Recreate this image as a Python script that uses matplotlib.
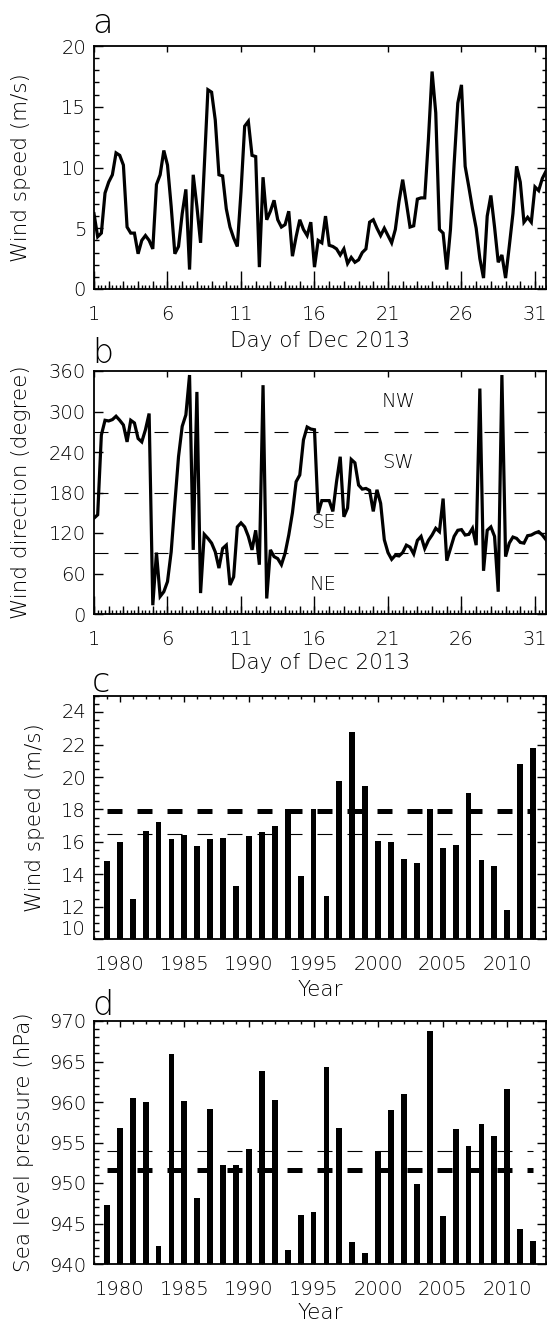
import numpy as np
import matplotlib
matplotlib.use('Agg')
import matplotlib.pyplot as plt
from matplotlib.ticker import MultipleLocator, FixedLocator, NullFormatter

# ---------------- data ----------------
# 6-hourly values, Dec 1 00h .. Dec 31 18h 2013
first_day = 1.0
step_days = 0.25
wind_speed_6h = [
    6.2, 4.3, 4.6, 7.9,  8.8, 9.4, 11.2, 11.0,  10.2, 5.1, 4.6, 4.6,
    2.9, 4.0, 4.4, 4.0,  3.3, 8.6, 9.4, 11.4,  10.2, 6.8, 2.9, 3.5,
    6.2, 8.2, 1.6, 9.4,  6.8, 3.8, 10.0, 16.4,  16.2, 13.9, 9.4, 9.3,
    6.6, 5.1, 4.2, 3.5,  8.0, 13.4, 13.8, 11.0,  10.9, 1.8, 9.2, 5.7,
    6.4, 7.3, 5.7, 5.1,  5.3, 6.4, 2.7, 4.3,  5.7, 4.9, 4.4, 5.5,
    1.8, 4.0, 3.8, 6.0,  3.6, 3.5, 3.3, 2.8,  3.3, 2.1, 2.6, 2.2,
    2.4, 3.0, 3.3, 5.5,  5.7, 5.0, 4.4, 5.0,  4.4, 3.8, 4.9, 7.2,
    9.0, 7.1, 5.1, 5.2,  7.4, 7.5, 7.5, 12.3,  17.9, 14.5, 4.9, 4.6,
    1.6, 4.9, 10.3, 15.3,  16.8, 10.1, 8.4, 6.6,  5.0, 2.5, 0.9, 6.0,
    7.7, 5.1, 2.2, 2.8,  0.9, 3.5, 6.2, 10.1,  8.8, 5.5, 5.9, 5.5,
    8.4, 8.1, 9.1, 9.7]
wind_dir_6h = [
    142, 147, 265, 287,  286, 288, 293, 287,  280, 255, 287, 283,
    260, 255, 273, 297,  13, 91, 26, 33,  48, 92, 164, 233,
    278, 295, 354, 95,  329, 31, 118, 112,  105, 92, 68, 97,
    102, 43, 55, 129,  135, 129, 115, 95,  124, 73, 339, 23,
    95, 85, 82, 73,  90, 117, 150, 196,  206, 258, 277, 274,
    273, 149, 168, 168,  168, 152, 196, 233,  144, 157, 229, 224,
    191, 185, 186, 183,  152, 184, 164, 110,  91, 81, 87, 86,
    91, 102, 99, 89,  109, 115, 97, 109,  117, 127, 122, 171,
    79, 97, 115, 124,  125, 117, 118, 127,  102, 334, 64, 124,
    129, 115, 33, 354,  85, 105, 114, 112,  106, 105, 116, 117,
    120, 122, 117, 110]
sector_bounds = [90, 180, 270]
sector_names = ['NE', 'SE', 'SW', 'NW']
sector_label_day = [16.6, 16.6, 21.7, 21.7]
sector_label_deg = [43, 135, 224, 315]

years = list(range(1979, 2013))
max_wind = [14.80, 15.99, 12.48, 16.65, 17.24, 16.15, 16.40, 15.72, 16.15, 16.24,
            13.30, 16.34, 16.58, 16.97, 18.04, 13.88, 18.04, 12.65, 19.78, 22.76,
            19.42, 16.03, 15.97, 14.96, 14.68, 18.04, 15.64, 15.83, 19.00, 14.86,
            14.49, 11.76, 20.81, 21.82]
wind_thick_ref = 17.9
wind_thin_ref = 16.46
slp = [947.28, 956.82, 960.44, 959.94, 942.22, 965.90, 960.15, 948.10, 959.12, 952.17,
       952.25, 954.19, 963.77, 960.23, 941.73, 946.00, 946.46, 964.34, 956.78, 942.75,
       941.32, 953.94, 958.96, 960.97, 949.87, 968.74, 945.92, 956.61, 954.60, 957.27,
       955.79, 961.59, 944.36, 942.84]
slp_thick_ref = 951.55
slp_thin_ref = 953.94

# ---------------- style ----------------
W, H = 547, 1323
plt.rcParams['font.family'] = ['DejaVu Sans']
plt.rcParams['font.weight'] = 200
plt.rcParams['axes.labelweight'] = 200
plt.rcParams['lines.scale_dashes'] = False
PX = 72.0 / 100.0  # points per pixel
TFS = 14     # tick labels
LFS = 15.5   # axis labels

fig = plt.figure(figsize=(W / 100, H / 100), dpi=100)


def make_axes(top, bottom, left=94, right=546):
    return fig.add_axes([left / W, 1 - bottom / H, (right - left) / W, (bottom - top) / H])


def style_common(ax):
    for s in ax.spines.values():
        s.set_linewidth(1.3)
    ax.tick_params(axis='both', which='both', direction='in', colors='k',
                   labelsize=TFS, width=1.0)
    ax.tick_params(axis='y', which='both', left=True, right=True)
    ax.tick_params(axis='y', which='major', length=9 * PX, pad=8 * PX)
    ax.tick_params(axis='y', which='minor', length=4.5 * PX)


def end_labels(ax):
    ticks = ax.yaxis.get_major_ticks()
    ticks[0].label1.set_va('bottom')
    ticks[-1].label1.set_va('top')


def day_axis(ax):
    ax.set_xlim(1, 31.75)
    ax.xaxis.set_major_locator(FixedLocator([1, 6, 11, 16, 21, 26, 31]))
    ax.xaxis.set_minor_locator(MultipleLocator(0.25))
    ax.tick_params(axis='x', which='both', top=False, bottom=True)
    ax.tick_params(axis='x', which='major', length=18 * PX, pad=16 * PX)
    ax.tick_params(axis='x', which='minor', length=4 * PX)
    sb = ax.secondary_xaxis('bottom')
    sb.set_xticks(np.arange(1, 32))
    sb.tick_params(axis='x', direction='in', length=8 * PX, width=1.0, labelbottom=False)
    sb.xaxis.set_major_formatter(NullFormatter())
    sb.spines['bottom'].set_visible(False)
    st = ax.secondary_xaxis('top')
    st.set_xticks([1, 6, 11, 16, 21, 26, 31])
    st.tick_params(axis='x', direction='in', length=6 * PX, width=1.0, labeltop=False)
    st.xaxis.set_major_formatter(NullFormatter())
    st.spines['top'].set_visible(False)


def year_axis(ax):
    ax.set_xlim(1978, 2013)
    ax.xaxis.set_major_locator(MultipleLocator(5))
    ax.xaxis.set_minor_locator(MultipleLocator(1))
    ax.tick_params(axis='x', which='both', top=True, bottom=True)
    ax.tick_params(axis='x', which='major', length=6 * PX, pad=16 * PX)
    ax.tick_params(axis='x', which='minor', length=3 * PX)


def ylabel_at(ax, text, xpix_right):
    ax.set_ylabel(text, fontsize=LFS, fontweight=200)
    ax.yaxis.set_label_coords((xpix_right - 94) / (546 - 94), 0.5)


def xlabel_at(ax, text, ypix_top, top, bottom):
    ax.set_xlabel(text, fontsize=LFS, fontweight=200)
    ax.xaxis.set_label_coords(0.5, (bottom - ypix_top) / (bottom - top))


def panel_letter(letter, ypix_baseline):
    fig.text(92 / W, 1 - ypix_baseline / H, letter, fontsize=24, fontweight=200,
             ha='left', va='baseline')


days = first_day + step_days * np.arange(len(wind_speed_6h))
DASH = (0, (15 * PX, 15 * PX))

# ---- panel a ----
ta, ba = 46, 289
axa = make_axes(ta, ba)
axa.plot(days, wind_speed_6h, color='k', lw=2.3, solid_joinstyle='miter')
axa.set_ylim(0, 20)
axa.yaxis.set_major_locator(MultipleLocator(5))
axa.yaxis.set_minor_locator(MultipleLocator(1))
style_common(axa)
day_axis(axa)
ylabel_at(axa, 'Wind speed (m/s)', 31)
xlabel_at(axa, 'Day of Dec 2013', 331, ta, ba)
end_labels(axa)
panel_letter('a', 33)

# ---- panel b ----
tb, bb = 371, 614
axb = make_axes(tb, bb)
for v in sector_bounds:
    axb.axhline(v, color='k', lw=0.8, linestyle=(0, (14 * PX, 16 * PX)))
axb.plot(days, wind_dir_6h, color='k', lw=2.3, solid_joinstyle='miter')
for name, d, g in zip(sector_names, sector_label_day, sector_label_deg):
    axb.text(d, g, name, fontsize=TFS, fontweight=200, ha='center', va='center')
axb.set_ylim(0, 360)
axb.yaxis.set_major_locator(MultipleLocator(60))
style_common(axb)
day_axis(axb)
ylabel_at(axb, 'Wind direction (degree)', 31)
xlabel_at(axb, 'Day of Dec 2013', 653, tb, bb)
end_labels(axb)
panel_letter('b', 363)

# ---- panel c ----
tc, bc = 696, 939
axc = make_axes(tc, bc)
axc.bar(years, max_wind, width=0.45, color='k', bottom=0)
axc.hlines(wind_thick_ref, years[0], years[-1], color='k', lw=5 * PX, linestyle=DASH)
axc.hlines(wind_thin_ref, years[0], years[-1], color='k', lw=0.8, linestyle=DASH)
axc.set_ylim(10, 25)
axc.yaxis.set_major_locator(FixedLocator([10, 12, 14, 16, 18, 20, 22, 24]))
axc.yaxis.set_minor_locator(MultipleLocator(0.5))
style_common(axc)
year_axis(axc)
ylabel_at(axc, 'Wind speed (m/s)', 45)
xlabel_at(axc, 'Year', 980, tc, bc)
end_labels(axc)
axc.yaxis.get_major_ticks()[-1].label1.set_va('center')
panel_letter('c', 692)

# ---- panel d ----
td, bd = 1021, 1264
axd = make_axes(td, bd)
axd.bar(years, slp, width=0.45, color='k', bottom=0)
axd.hlines(slp_thick_ref, years[0], years[-1], color='k', lw=5 * PX, linestyle=DASH)
axd.hlines(slp_thin_ref, years[0], years[-1], color='k', lw=0.8, linestyle=DASH)
axd.set_ylim(940, 970)
axd.yaxis.set_major_locator(MultipleLocator(5))
axd.yaxis.set_minor_locator(MultipleLocator(1))
style_common(axd)
year_axis(axd)
ylabel_at(axd, 'Sea level pressure (hPa)', 34)
xlabel_at(axd, 'Year', 1303, td, bd)
end_labels(axd)
panel_letter('d', 1015)

fig.savefig('out.png', dpi=100)
